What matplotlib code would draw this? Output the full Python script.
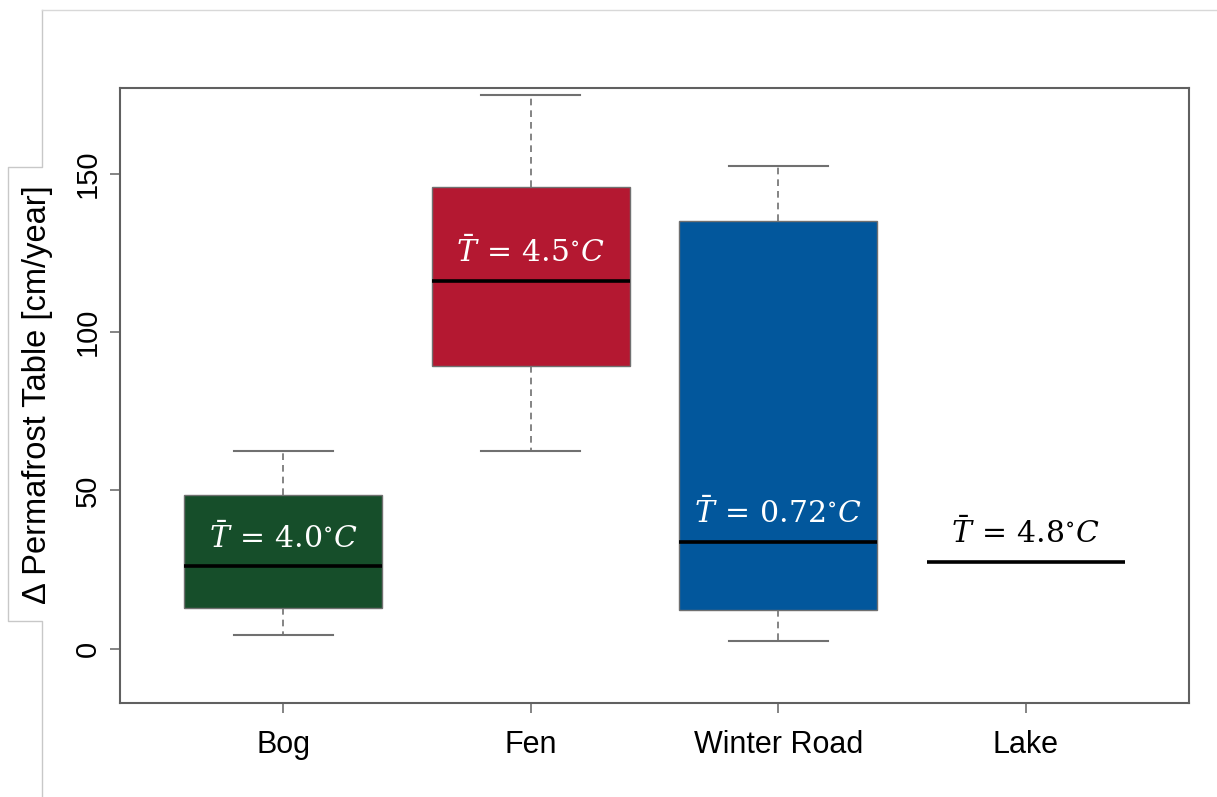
import matplotlib
matplotlib.use("Agg")
import matplotlib.pyplot as plt
from matplotlib.lines import Line2D

# Sites and five-number summaries of the permafrost-table change (cm/year)
sites = ["Bog", "Fen", "Winter Road", "Lake"]
whisker_low = [4.4, 62.5, 2.5, 27.5]
q1 = [12.9, 89.4, 12.3, 27.5]
median = [26.1, 116.3, 33.8, 27.5]
q3 = [48.6, 145.8, 135.2, 27.5]
whisker_high = [62.5, 175.1, 152.6, 27.5]

# Mean temperature annotations
mean_temp = ["4.0", "4.5", "0.72", "4.8"]
box_colors = ["#164e2a", "#b41831", "#02579c", "#ffffff"]
label_colors = ["white", "white", "white", "black"]

plt.rcParams["font.family"] = ["Liberation Sans", "DejaVu Sans"]
plt.rcParams["mathtext.fontset"] = "dejavuserif"

fig = plt.figure(figsize=(12.17, 7.97), dpi=100)
ax = fig.add_axes([0.0986, 0.1179, 0.8785, 0.7717])

stats = []
for i, name in enumerate(sites):
    stats.append(dict(label=name, whislo=whisker_low[i], q1=q1[i], med=median[i],
                      q3=q3[i], whishi=whisker_high[i], fliers=[]))

positions = list(range(1, len(sites) + 1))
bp = ax.bxp(stats, positions=positions, widths=0.8, patch_artist=True,
            showfliers=False,
            boxprops=dict(edgecolor="#707070", linewidth=1.0),
            medianprops=dict(color="black", linewidth=2.6),
            whiskerprops=dict(color="#707070", linewidth=1.2, linestyle=(0, (4, 3))),
            capprops=dict(color="#707070", linewidth=1.5),
            capwidths=0.4)
for patch, c in zip(bp["boxes"], box_colors):
    patch.set_facecolor(c)
# the Lake box collapses to a line; hide its outline
bp["boxes"][3].set_edgecolor("none")
for k in (6, 7):
    bp["whiskers"][k].set_visible(False)
    bp["caps"][k].set_visible(False)

for i in range(len(sites)):
    ax.text(positions[i], median[i] + 9,
            r"$\bar{T}\,=\,%s^{\circ}C$" % mean_temp[i],
            ha="center", va="center", fontsize=21.5, color=label_colors[i])

ax.set_xlim(0.34, 4.66)
ax.set_ylim(-17.2, 177.2)
ax.set_yticks([0, 50, 100, 150])
ax.set_xticks(positions)
ax.set_xticklabels(sites, fontsize=22)
ax.tick_params(axis="y", labelsize=21, labelrotation=90, length=7.2, width=1.2,
               color="#707070", pad=6)
ax.tick_params(axis="x", length=7.2, width=1.2, color="#707070", pad=12)
for lab in ax.get_yticklabels():
    lab.set_va("center")
for s in ax.spines.values():
    s.set_color("#606060")
    s.set_linewidth(1.5)

fig.text(0.031, 0.505, "\u0394 Permafrost Table [cm/year]", rotation=90,
         ha="center", va="center", fontsize=23.5)

# thin outline framing the panel and the axis title
gx = [0.0345, 0.0345, 0.0066, 0.0066, 0.0345, 0.0345]
gy = [0.9875, 0.7905, 0.7905, 0.2208, 0.2208, 0.0]
fig.add_artist(Line2D(gx, gy, transform=fig.transFigure, color="#c8c8c8", linewidth=1.0))
fig.add_artist(Line2D([0.0345, 1.0], [0.9875, 0.9875], transform=fig.transFigure,
                      color="#d8d8d8", linewidth=1.0))

fig.savefig("out.png", dpi=100)
